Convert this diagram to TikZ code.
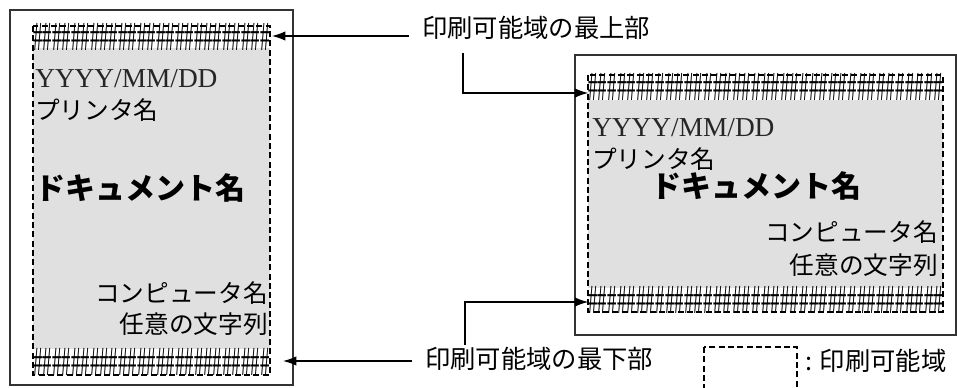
\documentclass[tikz,border=0pt]{standalone}
\usepackage{fontspec}
\setmainfont{Liberation Serif}
\newfontfamily\jp{Noto Sans CJK JP}
\usetikzlibrary{arrows.meta}

\begin{document}
\begin{tikzpicture}[
  x=0.75pt, y=-0.75pt,
  page/.style={draw=black!80, line width=1.1pt},
  printarea/.style={draw=black, dash pattern=on 4.5pt off 2.5pt, line width=0.8pt},
  shade/.style={fill=black!12},
  hashch/.style={inner sep=0pt, xscale=0.45, font=\fontsize{31}{31}\selectfont},
  latin/.style={inner sep=0pt, font=\fontsize{20.5}{21}\selectfont, text=black!85},
  jptext/.style={inner sep=0pt, font=\jp\fontsize{18.5}{19}\selectfont},
  jpbold/.style={inner sep=0pt, font=\jp\bfseries\fontsize{22.5}{23}\selectfont},
  label/.style={inner sep=0pt, font=\jp\fontsize{19}{20}\selectfont},
  arrow/.style={-{Latex[length=10pt, width=7pt]}, line width=0.9pt}
]
\useasboundingbox (0,0) rectangle (957,387);

% left page (portrait)
\draw[page] (10,10) rectangle (293,385);
\fill[shade] (33,48) rectangle (270,349);
\draw[printarea] (33,26) rectangle (270,375);
\foreach \i in {0,...,24} {
  \node[hashch] (lt\i) at (38+\i*9.45,37) {\#};
  \node[hashch] (lb\i) at (38+\i*9.45,362) {\#};
}
\node[latin, anchor=west] (ldate) at (35,79) {YYYY/MM/DD};
\node[jptext, anchor=west] (lprn) at (35,110) {プリンタ名};
\node[jpbold, anchor=west] (ldoc) at (35,188) {ドキュメント名};
\node[jptext, anchor=east] (lpc) at (268,293) {コンピュータ名};
\node[jptext, anchor=east] (lstr) at (268,324) {任意の文字列};

% right page (landscape)
\draw[page] (575,55) rectangle (956,335);
\fill[shade] (588,100) rectangle (943,288);
\draw[printarea] (588,75) rectangle (943,312);
\foreach \i in {0,...,36} {
  \node[hashch] (rt\i) at (593+\i*9.6,87) {\#};
  \node[hashch] (rb\i) at (593+\i*9.6,300) {\#};
}
\node[latin, anchor=west] (rdate) at (592,128) {YYYY/MM/DD};
\node[jptext, anchor=west] (rprn) at (592,159) {プリンタ名};
\node[jpbold, anchor=west] (rdoc) at (651,186) {ドキュメント名};
\node[jptext, anchor=east] (rpc) at (938,232) {コンピュータ名};
\node[jptext, anchor=east] (rstr) at (938,265) {任意の文字列};

% labels
\node[label, anchor=west] (top) at (422,28) {印刷可能域の最上部};
\node[label, anchor=west] (bot) at (425,359) {印刷可能域の最下部};
\node[label, anchor=west] (leg) at (805,361) {: 印刷可能域};
\draw[printarea] (704,347) rectangle (797,395);

\coordinate (ltip) at (272,36);
\coordinate (lbtip) at (283,361);
\draw[arrow] ([xshift=-10pt]top.west |- ltip) -- (ltip);
\draw[arrow] ([xshift=-10pt]bot.west |- lbtip) -- (lbtip);
\draw[arrow] (463,53) coordinate (tv) -- (463,93) -- (rt0.west |- 0,93);
\draw[arrow] (465,345) coordinate (bv) -- (465,302) -- (rb0.west |- 0,302);
\end{tikzpicture}
\end{document}
